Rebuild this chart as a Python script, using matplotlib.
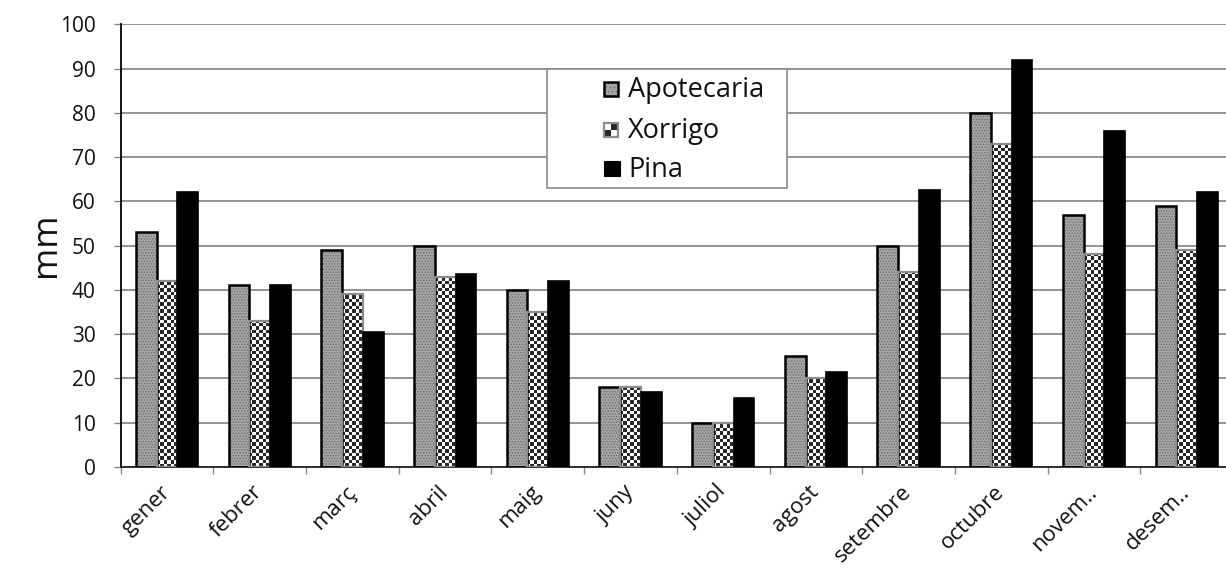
import numpy as np
import matplotlib
matplotlib.use("Agg")
import matplotlib.pyplot as plt
from matplotlib.patches import Rectangle
from matplotlib.colors import ListedColormap

# Monthly precipitation (mm) at three stations
months = ["gener", "febrer", "març", "abril", "maig", "juny", "juliol",
          "agost", "setembre", "octubre", "novem..", "desem.."]
apotecaria = [53, 41, 49, 50, 40, 18, 10, 25, 50, 80, 57, 59]
xorrigo = [42, 33, 39, 43, 35, 18, 10, 20, 44, 73, 48, 49]
pina = [62, 41, 30.5, 43.5, 42, 17, 15.5, 21.5, 62.5, 92, 76, 62]
series_names = ["Apotecaria", "Xorrigo", "Pina"]
y_ticks = list(range(0, 101, 10))

W, H = 1226, 583
plt.rcParams["font.family"] = ["Open Sans", "DejaVu Sans"]
plt.rcParams["hatch.linewidth"] = 0.7

fig = plt.figure(figsize=(W / 100, H / 100), dpi=100)


def fx(px):
    return px / W


def fy(py):
    return 1 - py / H


ax_left, ax_right, ax_top, ax_bottom = 120.7, 1233.0, 24.3, 466.8
ax = fig.add_axes([fx(ax_left), fy(ax_bottom), fx(ax_right - ax_left),
                   (ax_bottom - ax_top) / H])

x = np.arange(len(months))
bw = 0.224
dark = "#262626"
checker_cmap = ListedColormap(["white", dark])

# Apotecaria: fine dotted grey fill with a black outline
ax.bar(x - bw, apotecaria, bw, color="#a6a6a6", edgecolor="#6e6e6e",
       hatch="......", linewidth=0, zorder=2)
ax.bar(x - bw, apotecaria, bw, fill=False, edgecolor="black",
       linewidth=1.8, zorder=3)

# Xorrigo: checkerboard fill with a grey outline
bars_x = ax.bar(x, xorrigo, bw, facecolor="none", edgecolor="#8c8c8c",
                linewidth=1.6, zorder=3)
px_per_mm = (ax_bottom - ax_top) / 100.0
sq = 3.5 / px_per_mm
for b in bars_x:
    x0, w, h = b.get_x(), b.get_width(), b.get_height()
    ny = int(np.ceil(h / sq))
    board = np.indices((ny, 6)).sum(axis=0) % 2
    im = ax.imshow(board, cmap=checker_cmap, extent=(x0, x0 + w, 0, ny * sq),
                   origin="lower", aspect="auto", interpolation="nearest",
                   zorder=2.5)
    im.set_clip_path(b)

# Pina: solid black
ax.bar(x + bw, pina, bw, color="black", edgecolor="black", linewidth=1.2,
       zorder=3)

ax.set_xlim(-0.5, len(months) - 0.5)
ax.set_ylim(0, 100)

ax.yaxis.grid(True, color="#8a8a8a", linewidth=1.3)
ax.set_axisbelow(True)
for s in ("top", "right"):
    ax.spines[s].set_visible(False)
ax.spines["left"].set_color("black")
ax.spines["left"].set_linewidth(1.3)
ax.spines["bottom"].set_color("#222222")
ax.spines["bottom"].set_linewidth(1.3)

ax.set_yticks(y_ticks)
ax.set_yticklabels([str(v) for v in y_ticks])
ax.tick_params(axis="y", length=5, width=1, color="#888888", pad=13,
               labelsize=15, labelcolor="#111111")

ax.set_xticks(x)
ax.set_xticklabels(months, rotation=45, ha="right", va="center",
                   rotation_mode="anchor", fontsize=16, color="#111111")
ax.tick_params(axis="x", which="major", length=0, pad=16)
ax.set_xticks(np.arange(len(months) + 1) - 0.5, minor=True)
ax.tick_params(axis="x", which="minor", length=5, width=1, color="#888888")

fig.text(fx(46), fy(245), "mm", rotation=90, fontsize=25, ha="center",
         va="center", color="#111111")

# Legend box
box = Rectangle((fx(547), fy(188)), fx(240), 119 / H, transform=fig.transFigure,
                facecolor="white", edgecolor="#8c8c8c", linewidth=1.2, zorder=10)
fig.add_artist(box)

baselines = [96.7, 138.0, 177.0]
hx, hs = 604, 14
for name, base in zip(series_names, baselines):
    top = base - 15
    if name == "Apotecaria":
        fig.add_artist(Rectangle((fx(hx), fy(top + hs)), hs / W, hs / H,
                                 transform=fig.transFigure, facecolor="#a6a6a6",
                                 edgecolor="#6e6e6e", hatch="....", linewidth=0,
                                 zorder=11))
        fig.add_artist(Rectangle((fx(hx), fy(top + hs)), hs / W, hs / H,
                                 transform=fig.transFigure, fill=False,
                                 edgecolor="black", linewidth=1.8, zorder=12))
    elif name == "Xorrigo":
        half = hs / 2
        cells = [(0, 0, "white"), (1, 0, dark),
                 (0, 1, dark), (1, 1, "white")]
        for cx, cy, col in cells:
            fig.add_artist(Rectangle((fx(hx + cx * half), fy(top + (cy + 1) * half)),
                                     half / W, half / H, transform=fig.transFigure,
                                     facecolor=col, linewidth=0, zorder=11))
        fig.add_artist(Rectangle((fx(hx), fy(top + hs)), hs / W, hs / H,
                                 transform=fig.transFigure, fill=False,
                                 edgecolor="#8c8c8c", linewidth=1.6, zorder=12))
    else:
        fig.add_artist(Rectangle((fx(hx), fy(top + hs)), (hs + 2) / W, (hs + 1) / H,
                                 transform=fig.transFigure, facecolor="black",
                                 edgecolor="black", linewidth=0.8, zorder=11))
    fig.text(fx(628), fy(base), name, fontsize=19.5, ha="left", va="baseline",
             color="#111111", zorder=13)

fig.savefig("out.png", dpi=100)
